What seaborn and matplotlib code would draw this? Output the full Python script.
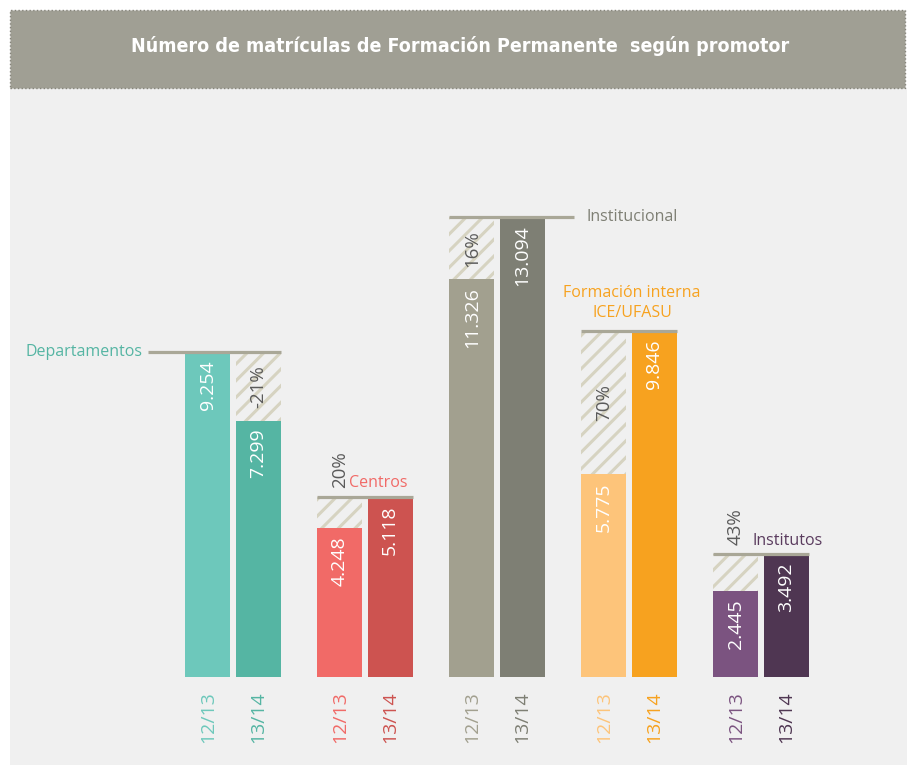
import matplotlib
matplotlib.use('Agg')
import matplotlib.pyplot as plt
import matplotlib.patches as mpatches
import pandas as pd
import seaborn as sns

# Datos
promotores = ['Departamentos', 'Centros', 'Institucional',
              'Formación interna\nICE/UFASU', 'Institutos']
cursos = ['12/13', '13/14']
matriculas_1213 = [9254, 4248, 11326, 5775, 2445]
matriculas_1314 = [7299, 5118, 13094, 9846, 3492]
variacion = ['-21%', '20%', '16%', '70%', '43%']

colores_1213 = ['#6dc8bb', '#f16a67', '#a2a08f', '#fdc47a', '#7b5380']
colores_1314 = ['#55b5a3', '#cd5350', '#7e7f74', '#f7a21f', '#4f3652']
colores_etiqueta = ['#55b5a3', '#f16a67', '#7e7f74', '#f7a21f', '#5a3b5e']

df = pd.DataFrame({
    'promotor': promotores * 2,
    'curso': [cursos[0]] * 5 + [cursos[1]] * 5,
    'matriculas': matriculas_1213 + matriculas_1314,
})

W, H = 915, 765
PX_X = 132.0          # px per category unit
PX_Y = 0.0351         # px per matricula
BASE_PX = 677         # baseline, px from top
G0_PX = 233           # centre of first group, px


def dy(px):
    return px / PX_Y


def dx(px):
    return px / PX_X


sns.set_style('white')
plt.rcParams['font.family'] = ['Open Sans', 'DejaVu Sans']
plt.rcParams['hatch.linewidth'] = 2.2

fig = plt.figure(figsize=(W / 100, H / 100), dpi=100, facecolor='white')

# panel + title band
fig.patches.append(mpatches.Rectangle((10 / W, 0), 897 / W, (H - 88) / H,
                                      transform=fig.transFigure, facecolor='#f0f0f0',
                                      edgecolor='none', zorder=-2))
fig.patches.append(mpatches.Rectangle((10 / W, (H - 88) / H), 895 / W, 78 / H,
                                      transform=fig.transFigure, facecolor='#a09f94',
                                      edgecolor='#85847a', linestyle=':', linewidth=1, zorder=-2))
fig.text(460 / W, (H - 46) / H, 'Número de matrículas de Formación Permanente  según promotor',
         ha='center', va='center', color='white', fontsize=14, fontweight='bold',
         fontstretch='condensed', family=['DejaVu Sans'])

ax = fig.add_axes([0, 0, 1, 1])
ax.patch.set_alpha(0)

sns.barplot(data=df, x='promotor', y='matriculas', hue='curso', order=promotores,
            hue_order=cursos, width=0.76, gap=0.1, dodge=True, legend=False,
            palette=['#999999', '#666666'], saturation=1, linewidth=0,
            edgecolor='none', ax=ax, zorder=2)

ax.set_xlim(-G0_PX / PX_X, (W - G0_PX) / PX_X)
ax.set_ylim(-(H - BASE_PX) / PX_Y, BASE_PX / PX_Y)
ax.axis('off')

barras = ax.patches[:10]
b1213, b1314 = barras[:5], barras[5:]

# extensiones de las lineas (px): izquierda, derecha
ext_linea = [(37, 0), (0, 0), (0, 29), (0, 0), (0, 0)]

for i in range(5):
    p1, p2 = b1213[i], b1314[i]
    p1.set_facecolor(colores_1213[i])
    p2.set_facecolor(colores_1314[i])
    v1, v2 = matriculas_1213[i], matriculas_1314[i]
    lo, hi = min(v1, v2), max(v1, v2)
    x1 = p1.get_x() + p1.get_width() / 2
    x2 = p2.get_x() + p2.get_width() / 2
    w = p1.get_width()

    # zona rayada: diferencia entre cursos
    xh = x1 if v1 < v2 else x2
    ax.bar(xh, hi - lo, bottom=lo, width=w, facecolor='#f0f0f0',
           edgecolor='#d6d3c1', hatch='//', linewidth=0, zorder=1)

    # linea de referencia
    xl = p1.get_x() - dx(ext_linea[i][0])
    xr = p2.get_x() + w + dx(ext_linea[i][1])
    ax.plot([xl, xr], [hi, hi], color='#a9a797', lw=2.3, solid_capstyle='butt', zorder=3)

    # valores
    for x, v in ((x1, v1), (x2, v2)):
        ax.text(x, v - dy(8), f'{v:,}'.replace(',', '.'), rotation=90, ha='center',
                va='top', color='white', fontsize=14, zorder=4)

    # variacion
    if (hi - lo) * PX_Y > 55:
        ax.text(xh, (hi + lo) / 2, variacion[i], rotation=90, ha='center', va='center',
                color='#5a5a5a', fontsize=13.5, zorder=4)
    else:
        ax.text(xh, hi + dy(9), variacion[i], rotation=90, ha='center', va='bottom',
                color='#5a5a5a', fontsize=13.5, zorder=4)

    # ejes: cursos
    for x, c, col in ((x1, cursos[0], colores_1213[i]), (x2, cursos[1], colores_1314[i])):
        ax.text(x, -dy(14), c, rotation=90, ha='center', va='top', color=col,
                fontsize=14, zorder=4)

# etiquetas de promotor
g = [b1213[i].get_x() + b1213[i].get_width() + (b1314[i].get_x() - b1213[i].get_x() - b1213[i].get_width()) / 2
     for i in range(5)]
tops = [max(a, b) for a, b in zip(matriculas_1213, matriculas_1314)]
ax.text(b1213[0].get_x() - dx(43), tops[0], promotores[0], ha='right', va='center',
        color=colores_etiqueta[0], fontsize=11.5)
ax.text(g[1] + dx(42), tops[1] + dy(6), promotores[1], ha='right', va='bottom',
        color=colores_etiqueta[1], fontsize=11.5)
ax.text(b1314[2].get_x() + b1314[2].get_width() + dx(42), tops[2], promotores[2],
        ha='left', va='center', color=colores_etiqueta[2], fontsize=11.5)
ax.text(g[3] + dx(3), tops[3] + dy(10), promotores[3], ha='center', va='bottom',
        color=colores_etiqueta[3], fontsize=11.5, linespacing=1.35, multialignment='center')
ax.text(g[4] - dx(8), tops[4] + dy(5), promotores[4], ha='left', va='bottom',
        color=colores_etiqueta[4], fontsize=11.5)

fig.savefig('out.png', dpi=100, facecolor='white')
